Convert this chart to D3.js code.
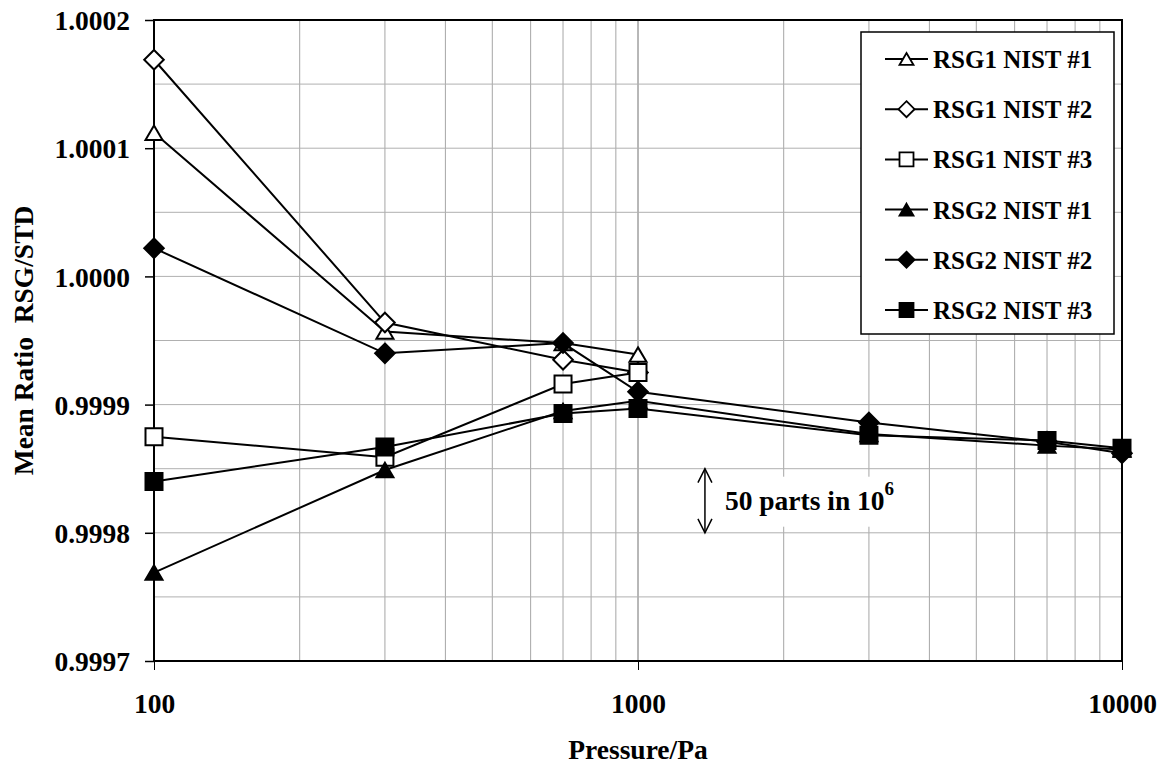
<!DOCTYPE html>
<html>
<head>
<meta charset="utf-8">
<script src="https://cdn.jsdelivr.net/npm/d3@7"></script>
<style>
  body { margin: 0; background: #fff; }
  text { font-family: "Liberation Serif", "Times New Roman", serif; font-weight: bold; fill: #000; }
</style>
</head>
<body>
<div id="chart"></div>
<script>
// pressures (Pa) at which the gauges were compared
var pressures = [100, 300, 700, 1000, 3000, 7000, 10000];

// mean ratio RSG/STD (null = no point)
var rsg1Nist1 = [1.000112, 0.999957, 0.999948, 0.999939, null, null, null];
var rsg1Nist2 = [1.000169, 0.999964, 0.999935, 0.999925, null, null, null];
var rsg1Nist3 = [0.999875, 0.999859, 0.999916, 0.999925, null, null, null];
var rsg2Nist1 = [0.999769, 0.999849, 0.999895, 0.999903, 0.999877, 0.999868, 0.999865];
var rsg2Nist2 = [1.000022, 0.999940, 0.999948, 0.999910, 0.999886, 0.999871, 0.999862];
var rsg2Nist3 = [0.999840, 0.999867, 0.999893, 0.999897, 0.999876, 0.999872, 0.999866];

var seriesNames = ["RSG1 NIST #1", "RSG1 NIST #2", "RSG1 NIST #3", "RSG2 NIST #1", "RSG2 NIST #2", "RSG2 NIST #3"];
var seriesValues = [rsg1Nist1, rsg1Nist2, rsg1Nist3, rsg2Nist1, rsg2Nist2, rsg2Nist3];
var seriesShapes = ["triangle", "diamond", "square", "triangle", "diamond", "square"];
var seriesFilled = [false, false, false, true, true, true];

var yTicks = [0.9997, 0.9998, 0.9999, 1.0000, 1.0001, 1.0002];
var xTicks = [100, 1000, 10000];

var width = 1165, height = 770;
var margin = {top: 20, right: 43, bottom: 109, left: 154};

var svg = d3.select("#chart").append("svg")
    .attr("width", width)
    .attr("height", height);

var x = d3.scaleLog().domain([100, 10000]).range([margin.left, width - margin.right]);
var y = d3.scaleLinear().domain([0.9997, 1.0002]).range([height - margin.bottom, margin.top]);

// marker path, centred on 0,0
function markerPath(shape, s) {
    var h = s / 2;
    if (shape == "square") {
        return "M" + (-h) + "," + (-h) + "H" + h + "V" + h + "H" + (-h) + "Z";
    } else if (shape == "diamond") {
        var d = h * 1.15;
        return "M0," + (-d) + "L" + d + ",0L0," + d + "L" + (-d) + ",0Z";
    } else {
        var th = s * 0.85;
        return "M0," + (-th / 2) + "L" + h + "," + (th / 2) + "L" + (-h) + "," + (th / 2) + "Z";
    }
}

// grid lines
var grid = svg.append("g");
var minorX = [];
[100, 1000].forEach(function(dec){
    for (var k = 2; k <= 9; k++) { minorX.push(dec * k); }
});
grid.selectAll(".vgrid").data(minorX).enter().append("line")
    .attr("x1", function(d){ return x(d); })
    .attr("x2", function(d){ return x(d); })
    .attr("y1", y.range()[0])
    .attr("y2", y.range()[1])
    .style("stroke", "#a6a6a6")
    .style("stroke-width", 1);
grid.append("line")
    .attr("x1", x(1000)).attr("x2", x(1000))
    .attr("y1", y.range()[0]).attr("y2", y.range()[1])
    .style("stroke", "#707070")
    .style("stroke-width", 1);

var hGrid = d3.range(0, 11).map(function(i){ return 0.9997 + i * 0.00005; });
grid.selectAll(".hgrid").data(hGrid).enter().append("line")
    .attr("x1", x.range()[0])
    .attr("x2", x.range()[1])
    .attr("y1", function(d){ return y(d); })
    .attr("y2", function(d){ return y(d); })
    .style("stroke", "#b0b0b0")
    .style("stroke-width", 1);

// frame
svg.append("rect")
    .attr("x", x.range()[0])
    .attr("y", y.range()[1])
    .attr("width", x.range()[1] - x.range()[0])
    .attr("height", y.range()[0] - y.range()[1])
    .style("fill", "none")
    .style("stroke", "#000")
    .style("stroke-width", 2);

// axes
var yAxis = d3.axisLeft(y).tickValues(yTicks).tickSize(9).tickPadding(15)
    .tickFormat(d3.format(".4f"));
var gy = svg.append("g").attr("transform", "translate(" + x.range()[0] + ",0)").call(yAxis);
gy.select(".domain").remove();
gy.selectAll(".tick line").style("stroke", "#000").style("stroke-width", 1.5);
gy.selectAll(".tick text").style("font-size", "27.5px").attr("dy", "0.35em")
    .style("font-family", "'Liberation Serif', 'Times New Roman', serif");

var xAxis = d3.axisBottom(x).tickValues(xTicks).tickSize(9).tickPadding(0)
    .tickFormat(d3.format("d"));
var gx = svg.append("g").attr("transform", "translate(0," + y.range()[0] + ")").call(xAxis);
gx.select(".domain").remove();
gx.selectAll(".tick line").style("stroke", "#000").style("stroke-width", 1);
gx.selectAll(".tick text").style("font-size", "27.5px").attr("y", 52).attr("dy", 0)
    .style("font-family", "'Liberation Serif', 'Times New Roman', serif");

svg.append("text")
    .attr("x", x(1000))
    .attr("y", 759)
    .attr("text-anchor", "middle")
    .style("font-size", "27.5px")
    .text("Pressure/Pa");

svg.append("text")
    .attr("transform", "translate(33," + ((y.range()[0] + y.range()[1]) / 2) + ") rotate(-90)")
    .attr("text-anchor", "middle")
    .style("font-size", "27.5px")
    .style("white-space", "pre")
    .text("Mean Ratio  RSG/STD");

// annotation: 50 parts in 10^6
var annotP = 1375;
var ann = svg.append("g");
ann.append("rect")
    .attr("x", x(annotP) + 17)
    .attr("y", y(0.99985) + 8)
    .attr("width", 185)
    .attr("height", 50)
    .style("fill", "#fff");
ann.append("line")
    .attr("x1", x(annotP)).attr("x2", x(annotP))
    .attr("y1", y(0.99985)).attr("y2", y(0.9998))
    .style("stroke", "#000").style("stroke-width", 1.5);
[[y(0.99985), 1], [y(0.9998), -1]].forEach(function(a){
    ann.append("path")
        .attr("d", "M" + (x(annotP) - 7) + "," + (a[0] + a[1] * 14) + "L" + x(annotP) + "," + a[0] +
              "L" + (x(annotP) + 7) + "," + (a[0] + a[1] * 14))
        .style("fill", "none").style("stroke", "#000").style("stroke-width", 1.5);
});
var annText = ann.append("text")
    .attr("x", x(annotP) + 20)
    .attr("y", 510)
    .style("font-size", "27.5px");
annText.append("tspan").text("50 parts in 10");
annText.append("tspan").attr("dy", -15).style("font-size", "19px").text("6");

// series
var line = d3.line()
    .defined(function(d){ return d.v !== null; })
    .x(function(d){ return x(d.p); })
    .y(function(d){ return y(d.v); });

seriesValues.forEach(function(vals, si){
    var pts = vals.map(function(v, i){ return {p: pressures[i], v: v}; });
    var g = svg.append("g");
    g.append("path")
        .attr("d", line(pts))
        .style("fill", "none")
        .style("stroke", "#000")
        .style("stroke-width", 2);
    g.selectAll("path.marker")
        .data(pts.filter(function(d){ return d.v !== null; }))
        .enter().append("path")
        .attr("class", "marker")
        .attr("transform", function(d){ return "translate(" + x(d.p) + "," + y(d.v) + ")"; })
        .attr("d", markerPath(seriesShapes[si], 17))
        .style("fill", seriesFilled[si] ? "#000" : "#fff")
        .style("stroke", "#000")
        .style("stroke-width", 2);
});

// legend
var legend = svg.append("g");
legend.append("rect")
    .attr("x", 861).attr("y", 32)
    .attr("width", 253).attr("height", 302)
    .style("fill", "#fff")
    .style("stroke", "#000")
    .style("stroke-width", 1.5);

var rows = legend.selectAll(".row").data(seriesNames).enter().append("g")
    .attr("transform", function(d, i){ return "translate(0," + (59 + i * 50.2) + ")"; });
rows.append("line")
    .attr("x1", 885).attr("x2", 928)
    .attr("y1", 0).attr("y2", 0)
    .style("stroke", "#000").style("stroke-width", 2);
rows.append("path")
    .attr("transform", "translate(906.5,0)")
    .attr("d", function(d, i){ return markerPath(seriesShapes[i], 14); })
    .style("fill", function(d, i){ return seriesFilled[i] ? "#000" : "#fff"; })
    .style("stroke", "#000")
    .style("stroke-width", 1.8);
rows.append("text")
    .attr("x", 933)
    .attr("y", 9)
    .style("font-size", "25px")
    .text(function(d){ return d; });
</script>
</body>
</html>
